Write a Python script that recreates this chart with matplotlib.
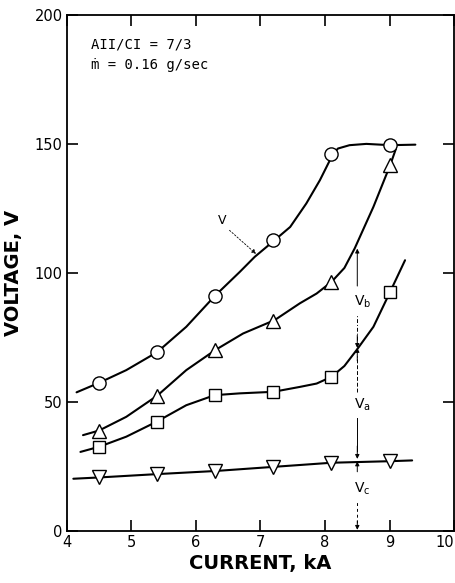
import matplotlib
matplotlib.use("Agg")
import matplotlib.pyplot as plt

# measured points (current in kA, voltage in V)
current = [4.5, 5.4, 6.3, 7.2, 8.1, 9.0]
v_total = [57.5, 69.4, 91.1, 112.8, 146, 149.6]
v_tri = [39, 52.5, 70.2, 81.5, 96.6, 141.9]
v_sq = [32.7, 42.4, 52.7, 54, 59.8, 92.8]
v_c = [20.8, 22.1, 23.3, 24.9, 26.5, 27.1]

# hand drawn curves
total_cx = [4.15, 4.5, 4.92, 5.4, 5.85, 6.29, 6.68, 6.91, 7.22, 7.46, 7.71, 7.92, 8.05, 8.12, 8.2, 8.38, 8.64, 9.01, 9.4]
total_cy = [53.8, 57.5, 62.4, 69.4, 79.2, 91.1, 100.5, 106.3, 112.8, 117.9, 127, 136, 142.5, 146, 148.3, 149.6, 150.1, 149.6, 149.8]
tri_cx = [4.25, 4.5, 4.92, 5.4, 5.85, 6.3, 6.73, 7.22, 7.61, 7.87, 8.1, 8.3, 8.46, 8.75, 9.01, 9.1]
tri_cy = [37.2, 39, 44.3, 52.5, 62.4, 70.2, 76.6, 81.8, 88.3, 92.1, 96.6, 102, 109.6, 125.7, 141.9, 148.3]
sq_cx = [4.21, 4.5, 4.92, 5.39, 5.85, 6.29, 6.68, 7.2, 7.61, 7.87, 8.1, 8.3, 8.49, 8.75, 9.01, 9.24]
sq_cy = [30.7, 32.7, 36.6, 42.4, 48.8, 52.7, 53.4, 54, 55.9, 57.2, 59.8, 64, 70.2, 79.2, 92.8, 105]
vc_cx = [4.1, 4.5, 5.4, 6.3, 7.2, 8.1, 9.0, 9.35]
vc_cy = [20.3, 20.8, 22.1, 23.3, 24.9, 26.5, 27.1, 27.4]

x_ticks = [4, 5, 6, 7, 8, 9, 10]
y_ticks = [0, 50, 100, 150, 200]

fig = plt.figure(figsize=(4.55, 5.83), dpi=100)
ax = fig.add_axes([0.147, 0.089, 0.851, 0.885])

lw = 1.5
for cx, cy in [(total_cx, total_cy), (tri_cx, tri_cy), (sq_cx, sq_cy), (vc_cx, vc_cy)]:
    ax.plot(cx, cy, color='k', lw=lw, solid_joinstyle='round', solid_capstyle='round')

mk = dict(color='k', ls='none', mfc='white', mec='k', mew=1.0, zorder=5)
ax.plot(current, v_total, marker='o', ms=9.5, **mk)
ax.plot(current, v_tri, marker='^', ms=10, **mk)
ax.plot(current, v_sq, marker='s', ms=8.5, **mk)
ax.plot(current, v_c, marker='v', ms=10, **mk)

# voltage component markers at 8.5 kA
xa = 8.5
arr = dict(arrowstyle='-|>', lw=0.7, color='k', mutation_scale=6, shrinkA=0, shrinkB=0)
ax.annotate('', xy=(xa, 109.5), xytext=(xa, 95), arrowprops=arr)
ax.plot([xa, xa], [74, 84], color='k', lw=0.7, ls=(0, (4, 2, 1, 2)))
ax.annotate('', xy=(xa, 71), xytext=(xa, 76), arrowprops=arr)
ax.annotate('', xy=(xa, 71), xytext=(xa, 66), arrowprops=arr)
ax.plot([xa, xa], [54, 68], color='k', lw=0.7, ls=(0, (4, 2)))
ax.plot([xa, xa], [31, 44], color='k', lw=0.7)
ax.annotate('', xy=(xa, 28), xytext=(xa, 33), arrowprops=arr)
ax.annotate('', xy=(xa, 27), xytext=(xa, 23), arrowprops=arr)
ax.plot([xa, xa], [3, 12], color='k', lw=0.7, ls=(0, (3, 3)))
ax.annotate('', xy=(xa, 0.5), xytext=(xa, 4), arrowprops=arr)

ax.text(xa + 0.08, 89, r'$\mathregular{V_b}$', fontsize=10, ha='center', va='center')
ax.text(xa + 0.08, 49, r'$\mathregular{V_a}$', fontsize=10, ha='center', va='center')
ax.text(xa + 0.08, 16.5, r'$\mathregular{V_c}$', fontsize=10, ha='center', va='center')

# V leader
ax.text(6.40, 120.5, 'V', fontsize=9, ha='center', va='center')
ax.annotate('', xy=(6.93, 107.5), xytext=(6.52, 116.6),
            arrowprops=dict(arrowstyle='-|>', lw=0.6, color='k', ls=(0, (2, 2)),
                            mutation_scale=6, shrinkA=0, shrinkB=0))

ax.text(4.38, 188.5, 'AII/CI = 7/3', family='DejaVu Sans Mono', fontsize=10, va='center')
ax.text(4.38, 180.5, 'ṁ = 0.16 g/sec', family='DejaVu Sans Mono', fontsize=10, va='center')

ax.set_xlim(4, 10)
ax.set_ylim(0, 200)
ax.set_xticks(x_ticks)
ax.set_yticks(y_ticks)
ax.tick_params(direction='in', top=True, right=True, length=8, width=1.2, labelsize=10.5, pad=3)
ax.get_xticklabels()[-1].set_horizontalalignment('right')
ax.get_xticklabels()[-1].set_x(10.05)
for s in ax.spines.values():
    s.set_linewidth(1.3)

ax.set_xlabel('CURRENT, kA', fontsize=14, fontweight='bold', labelpad=3)
ax.set_ylabel('VOLTAGE, V', fontsize=14, fontweight='bold', labelpad=8)

fig.savefig('out.png', dpi=100)
